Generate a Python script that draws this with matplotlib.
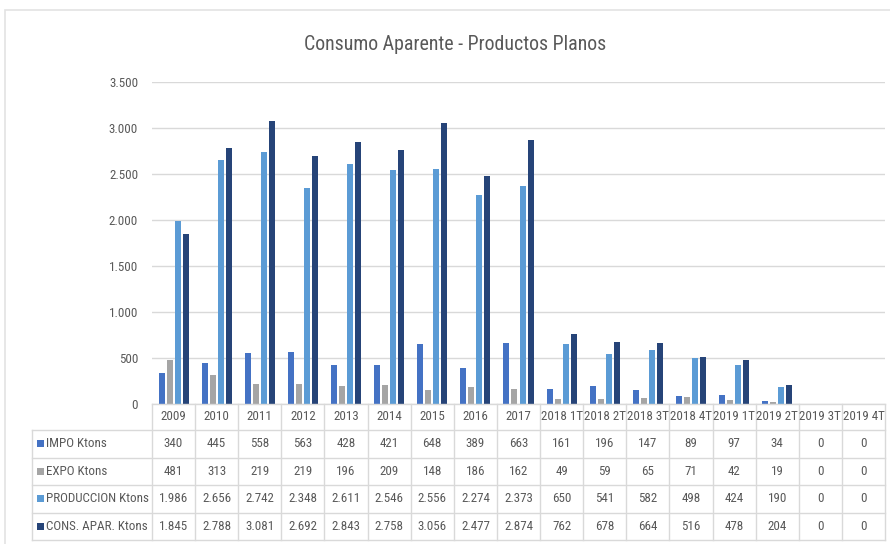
import matplotlib
matplotlib.use("Agg")
import matplotlib.pyplot as plt
import numpy as np
from matplotlib import font_manager as fm
from matplotlib.patches import Rectangle

periods = ["2009", "2010", "2011", "2012", "2013", "2014", "2015", "2016", "2017",
           "2018 1T", "2018 2T", "2018 3T", "2018 4T",
           "2019 1T", "2019 2T", "2019 3T", "2019 4T"]
impo = [340, 445, 558, 563, 428, 421, 648, 389, 663, 161, 196, 147, 89, 97, 34, 0, 0]
expo = [481, 313, 219, 219, 196, 209, 148, 186, 162, 49, 59, 65, 71, 42, 19, 0, 0]
produccion = [1986, 2656, 2742, 2348, 2611, 2546, 2556, 2274, 2373, 650, 541, 582, 498, 424, 190, 0, 0]
cons_apar = [1845, 2788, 3081, 2692, 2843, 2758, 3056, 2477, 2874, 762, 678, 664, 516, 478, 204, 0, 0]

series_names = ["IMPO Ktons", "EXPO Ktons", "PRODUCCION Ktons", "CONS. APAR. Ktons"]
series_vals = [impo, expo, produccion, cons_apar]
colors = ["#4472C4", "#A5A5A5", "#5B9BD5", "#264478"]
text_col = "#595959"
line_col = "#D9D9D9"


def pick_narrow_font():
    # prefer a condensed/narrow sans face, regular weight, upright
    found = []
    for f in fm.fontManager.ttflist:
        narrow = ("Narrow" in f.name or "Condensed" in f.name
                  or f.stretch in ("condensed", "semi-condensed", "extra-condensed"))
        if narrow and f.style == "normal" and f.weight in (400, "normal", "regular"):
            found.append(f)
    order = ["Liberation Sans Narrow", "Roboto Condensed", "Open Sans Condensed",
             "Noto Sans", "DejaVu Sans"]
    for name in order:
        for f in found:
            if f.name.startswith(name):
                return fm.FontProperties(fname=f.fname)
    if found:
        return fm.FontProperties(fname=found[0].fname)
    return None


narrow = pick_narrow_font()
if narrow is not None:
    base_fp, fs, fs_title = narrow, 9.4, 14.3
else:
    base_fp, fs, fs_title = fm.FontProperties(family="Liberation Sans"), 8.0, 12.5


def fp(size):
    p = base_fp.copy()
    p.set_size(size)
    return p


def fmt(v):
    return f"{v:,}".replace(",", ".")


W, H = 890, 544
fig = plt.figure(figsize=(W / 100, H / 100), dpi=100)

# plot area in pixels
x0, x1 = 152, 885
y_top, y_zero = 82, 404
ax = fig.add_axes([x0 / W, 1 - y_zero / H, (x1 - x0) / W, (y_zero - y_top) / H])

# outer chart frame
fig.add_artist(Rectangle((5 / W, -0.1), 1.2, 1 - 10 / H + 0.1, transform=fig.transFigure,
                         fill=False, edgecolor="#E3E3E3", lw=1.2))

n = len(periods)
x = np.arange(n)
pitch = 8 / 43.1
bw = 6 / 43.1
for i, (vals, c) in enumerate(zip(series_vals, colors)):
    ax.bar(x + (i - 1.5) * pitch, vals, width=bw, color=c, zorder=3)

ax.set_xlim(-0.5, n - 0.5)
ax.set_ylim(0, 3500)
ax.set_yticks(range(0, 3501, 500))
ax.set_yticklabels([fmt(v) for v in range(0, 3501, 500)], color=text_col, fontproperties=fp(fs))
ax.tick_params(axis="y", length=0, pad=10)
ax.set_xticks([])
ax.grid(axis="y", color=line_col, lw=1, zorder=0)
for s in ax.spines.values():
    s.set_visible(False)


def fx(px):
    return px / W


def fy(py):
    return 1 - py / H


fig.text(fx(455), fy(44), "Consumo Aparente - Productos Planos", ha="center", va="center",
         fontproperties=fp(fs_title), color=text_col)

# data table below the axis, drawn in figure pixels
px_per_cat = (x1 - x0) / n
row_edges = [404, 430, 457.5, 485, 512.5, 540]
lab_left = 32


def hline(xa, xb, y):
    fig.add_artist(plt.Line2D([fx(xa), fx(xb)], [fy(y), fy(y)], color=line_col, lw=1))


def vline(xp, ya, yb):
    fig.add_artist(plt.Line2D([fx(xp), fx(xp)], [fy(ya), fy(yb)], color=line_col, lw=1))


hline(x0, x1, row_edges[0])
for y in row_edges[1:]:
    hline(lab_left, x1, y)
for k in range(n + 1):
    vline(x0 + k * px_per_cat, row_edges[0], row_edges[-1])
vline(lab_left, row_edges[1], row_edges[-1])

for k, p in enumerate(periods):
    cx = x0 + (k + 0.5) * px_per_cat
    fig.text(fx(cx), fy((row_edges[0] + row_edges[1]) / 2), p, ha="center", va="center",
             fontproperties=fp(fs), color=text_col)

for r, (name, vals, c) in enumerate(zip(series_names, series_vals, colors)):
    cy = (row_edges[r + 1] + row_edges[r + 2]) / 2
    fig.add_artist(Rectangle((fx(37), fy(cy + 3.5)), 7 / W, 7 / H, transform=fig.transFigure,
                             facecolor=c, edgecolor="none"))
    fig.text(fx(46), fy(cy), name, ha="left", va="center", fontproperties=fp(fs), color=text_col)
    for k, v in enumerate(vals):
        cx = x0 + (k + 0.5) * px_per_cat
        fig.text(fx(cx), fy(cy), fmt(v), ha="center", va="center",
                 fontproperties=fp(fs), color=text_col)

fig.savefig("out.png", dpi=100)
